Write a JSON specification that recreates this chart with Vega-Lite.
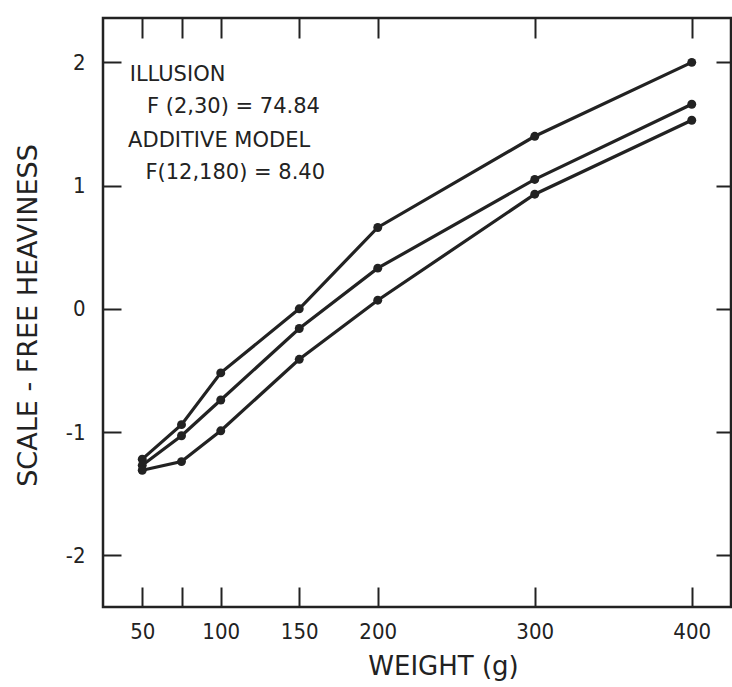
{
  "$schema": "https://vega.github.io/schema/vega-lite/v6.json",
  "width": 628,
  "height": 589,
  "autosize": {"type": "none"},
  "padding": {"left": 103, "top": 18, "right": 1, "bottom": 80},
  "background": "white",
  "config": {
    "view": {"stroke": "#222", "strokeWidth": 2.5},
    "font": "DejaVu Sans",
    "axis": {
      "domain": false,
      "grid": false,
      "tickColor": "#222",
      "tickWidth": 2,
      "labelColor": "#222",
      "titleColor": "#222",
      "labelFont": "DejaVu Sans Condensed, DejaVu Sans",
      "titleFont": "DejaVu Sans",
      "titleFontWeight": "normal"
    }
  },
  "datasets": {
    "curves": [
      {"weight": 50, "series": "A", "heaviness": -1.22},
      {"weight": 75, "series": "A", "heaviness": -0.94},
      {"weight": 100, "series": "A", "heaviness": -0.52},
      {"weight": 150, "series": "A", "heaviness": 0.0},
      {"weight": 200, "series": "A", "heaviness": 0.66},
      {"weight": 300, "series": "A", "heaviness": 1.4},
      {"weight": 400, "series": "A", "heaviness": 2.0},
      {"weight": 50, "series": "B", "heaviness": -1.27},
      {"weight": 75, "series": "B", "heaviness": -1.03},
      {"weight": 100, "series": "B", "heaviness": -0.74},
      {"weight": 150, "series": "B", "heaviness": -0.16},
      {"weight": 200, "series": "B", "heaviness": 0.33},
      {"weight": 300, "series": "B", "heaviness": 1.05},
      {"weight": 400, "series": "B", "heaviness": 1.66},
      {"weight": 50, "series": "C", "heaviness": -1.31},
      {"weight": 75, "series": "C", "heaviness": -1.24},
      {"weight": 100, "series": "C", "heaviness": -0.99},
      {"weight": 150, "series": "C", "heaviness": -0.41},
      {"weight": 200, "series": "C", "heaviness": 0.07},
      {"weight": 300, "series": "C", "heaviness": 0.93},
      {"weight": 400, "series": "C", "heaviness": 1.53}
    ],
    "notes": [
      {"label": "ILLUSION", "wx": 42, "hy": 1.9},
      {"label": "F (2,30) = 74.84", "wx": 53, "hy": 1.64},
      {"label": "ADDITIVE MODEL", "wx": 41, "hy": 1.36},
      {"label": "F(12,180) = 8.40", "wx": 52, "hy": 1.1}
    ]
  },
  "layer": [
    {
      "data": {"name": "curves"},
      "mark": {"type": "line", "color": "#222", "strokeWidth": 3.2},
      "encoding": {
        "x": {
          "field": "weight",
          "type": "quantitative",
          "scale": {"domain": [25, 425], "nice": false, "zero": false},
          "axis": {
            "orient": "bottom",
            "values": [50, 75, 100, 150, 200, 300, 400],
            "labelExpr": "datum.value == 75 ? '' : datum.label",
            "tickSize": -20,
            "labelPadding": 34,
            "labelFontSize": 22,
            "title": "WEIGHT (g)",
            "titleFontSize": 26,
            "titleX": 340,
            "titleY": 59,
            "titleBaseline": "middle"
          }
        },
        "y": {
          "field": "heaviness",
          "type": "quantitative",
          "scale": {"domain": [-2.42, 2.36], "nice": false, "zero": false},
          "axis": {
            "orient": "left",
            "values": [-2, -1, 0, 1, 2],
            "labelExpr": "'' + datum.value",
            "tickSize": -18,
            "labelPadding": 36,
            "labelFontSize": 22,
            "title": "SCALE - FREE HEAVINESS",
            "titleFontSize": 27,
            "titleX": -75,
            "titleY": 297,
            "titleBaseline": "middle"
          }
        },
        "detail": {"field": "series"}
      }
    },
    {
      "data": {"name": "curves"},
      "mark": {"type": "point", "filled": true, "color": "#222", "size": 80, "opacity": 1},
      "encoding": {
        "x": {
          "field": "weight",
          "type": "quantitative",
          "scale": {"domain": [25, 425], "nice": false, "zero": false},
          "axis": {
            "orient": "top",
            "values": [50, 75, 100, 150, 200, 300, 400],
            "labels": false,
            "tickSize": -20,
            "title": null
          }
        },
        "y": {
          "field": "heaviness",
          "type": "quantitative",
          "scale": {"domain": [-2.42, 2.36], "nice": false, "zero": false},
          "axis": {
            "orient": "right",
            "values": [-2, -1, 0, 1, 2],
            "labels": false,
            "tickSize": -15,
            "title": null
          }
        }
      }
    },
    {
      "data": {"name": "notes"},
      "mark": {"type": "text", "align": "left", "baseline": "middle", "fontSize": 21, "color": "#222", "font": "DejaVu Sans"},
      "encoding": {
        "x": {"field": "wx", "type": "quantitative", "axis": null},
        "y": {"field": "hy", "type": "quantitative", "axis": null},
        "text": {"field": "label"}
      }
    }
  ],
  "resolve": {"axis": {"x": "independent", "y": "independent"}}
}
